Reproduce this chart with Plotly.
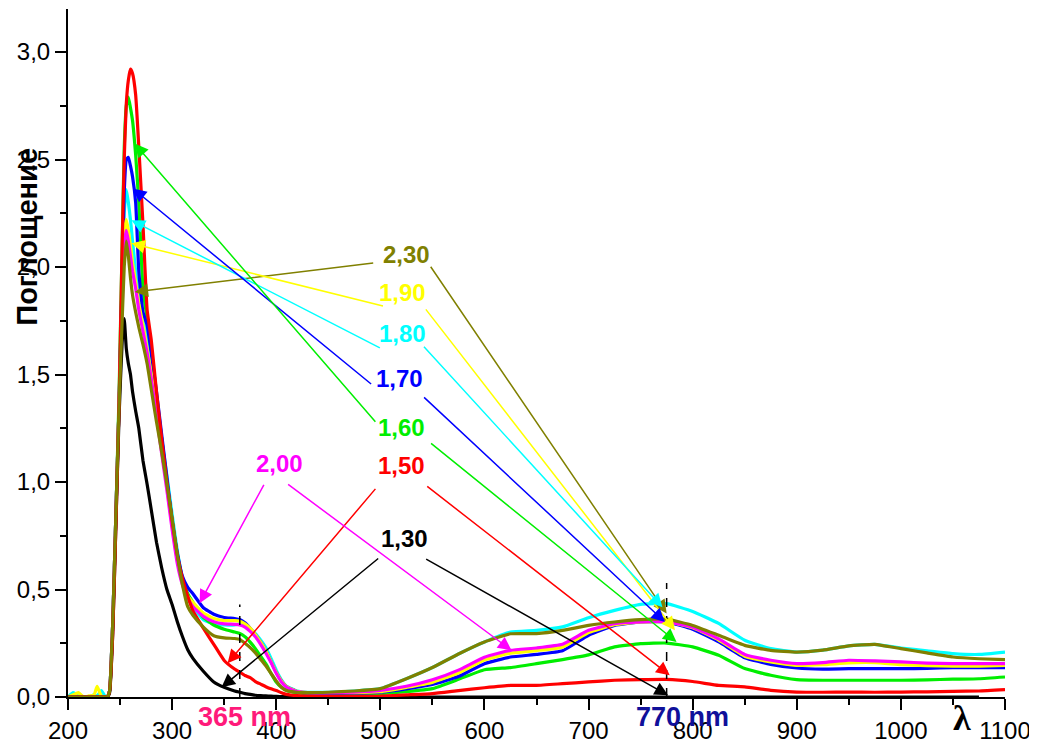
import plotly.graph_objects as go

# ---------------- data ----------------
wl = [200, 205, 210, 215, 220, 225, 228, 232, 236, 238, 240, 243, 246, 249, 252, 254, 256, 258, 260,
      262, 265, 268, 272, 276, 280, 285, 290, 295, 300, 305, 310, 315, 320, 330, 340, 350, 360, 365,
      370, 375, 380, 385, 390, 395, 400, 405, 410, 420, 430, 450, 475, 500, 525, 550, 575, 600, 625,
      650, 675, 700, 725, 750, 775, 800, 825, 850, 875, 900, 925, 950, 975, 1000, 1025, 1050, 1075, 1100]

noise0 = [0, 0, 0, 0, 0, 0, 0, 0, 0, 0]

a130 = noise0 + [0.02, 0.3, 0.8, 1.3, 1.65, 1.76, 1.62, 1.55, 1.5,
                 1.42, 1.33, 1.25, 1.1, 0.99, 0.87, 0.72, 0.6, 0.5, 0.43, 0.35, 0.28, 0.22, 0.18, 0.12, 0.07, 0.045, 0.028, 0.022,
                 0.016, 0.012, 0.008, 0.006, 0.005, 0.004, 0.003, 0.002, 0.002, 0.001, 0, 0, 0, 0, 0, 0, 0, 0, 0,
                 0, 0, 0, 0, 0, 0, 0, 0, 0, 0, 0, 0, 0, 0, 0, 0, 0, 0]

a150 = noise0 + [0.03, 0.3, 0.8, 1.35, 2.1, 2.5, 2.76, 2.87, 2.92,
                 2.9, 2.8, 2.56, 2.2, 1.8, 1.66, 1.42, 1.2, 1.0, 0.82, 0.66, 0.55, 0.47, 0.4, 0.32, 0.245, 0.17, 0.13, 0.115,
                 0.1, 0.09, 0.072, 0.06, 0.048, 0.038, 0.03, 0.02, 0.012, 0.006, 0.004, 0.003, 0.003, 0.004, 0.01, 0.016, 0.03, 0.043, 0.054,
                 0.054, 0.062, 0.07, 0.078, 0.081, 0.082, 0.072, 0.054, 0.047, 0.031, 0.023, 0.022, 0.023, 0.022, 0.023, 0.024, 0.026, 0.028, 0.034]

a160 = noise0 + [0.03, 0.35, 0.85, 1.4, 2.1, 2.55, 2.75, 2.79, 2.74,
                 2.68, 2.52, 2.3, 1.9, 1.76, 1.62, 1.4, 1.2, 1.0, 0.82, 0.66, 0.55, 0.48, 0.44, 0.37, 0.335, 0.315, 0.302, 0.295,
                 0.28, 0.255, 0.225, 0.19, 0.155, 0.11, 0.07, 0.045, 0.03, 0.02, 0.016, 0.012, 0.012, 0.016, 0.025, 0.039, 0.082, 0.127, 0.137,
                 0.155, 0.174, 0.196, 0.233, 0.248, 0.251, 0.233, 0.194, 0.132, 0.101, 0.081, 0.078, 0.078, 0.078, 0.078, 0.08, 0.083, 0.085, 0.093]

a170 = noise0 + [0.03, 0.35, 0.85, 1.35, 1.95, 2.35, 2.5, 2.51, 2.47,
                 2.42, 2.3, 1.98, 1.79, 1.73, 1.6, 1.42, 1.22, 1.02, 0.82, 0.67, 0.56, 0.51, 0.48, 0.415, 0.385, 0.37, 0.365, 0.36,
                 0.345, 0.32, 0.29, 0.255, 0.215, 0.165, 0.115, 0.075, 0.048, 0.025, 0.018, 0.016, 0.018, 0.023, 0.038, 0.058, 0.095, 0.155, 0.186,
                 0.198, 0.215, 0.287, 0.333, 0.349, 0.349, 0.315, 0.256, 0.183, 0.152, 0.135, 0.13, 0.132, 0.132, 0.132, 0.133, 0.137, 0.136, 0.137]

a180 = [0, 0.02, 0.005, 0, 0, 0.01, 0.005, 0.03, 0, 0] + [0.03, 0.35, 0.85, 1.35, 1.9, 2.25, 2.36, 2.3, 2.22,
                 2.12, 1.98, 1.85, 1.76, 1.68, 1.57, 1.38, 1.2, 1.03, 0.85, 0.68, 0.55, 0.46, 0.42, 0.36, 0.34, 0.335, 0.335, 0.34,
                 0.33, 0.315, 0.295, 0.265, 0.23, 0.18, 0.125, 0.08, 0.05, 0.028, 0.022, 0.022, 0.028, 0.039, 0.085, 0.137, 0.2, 0.256, 0.302,
                 0.31, 0.326, 0.369, 0.403, 0.431, 0.434, 0.398, 0.342, 0.264, 0.225, 0.209, 0.218, 0.238, 0.245, 0.228, 0.215, 0.202, 0.198, 0.209]

a190 = [0, 0.01, 0.02, 0, 0.005, 0.01, 0.05, 0.005, 0, 0] + [0.03, 0.35, 0.85, 1.35, 1.85, 2.15, 2.22, 2.17, 2.1,
                 2.02, 1.93, 1.83, 1.73, 1.62, 1.5, 1.33, 1.15, 0.98, 0.8, 0.64, 0.53, 0.47, 0.44, 0.39, 0.365, 0.355, 0.355, 0.352,
                 0.34, 0.32, 0.29, 0.255, 0.215, 0.165, 0.115, 0.075, 0.048, 0.026, 0.02, 0.02, 0.02, 0.025, 0.045, 0.068, 0.112, 0.172, 0.204,
                 0.216, 0.232, 0.3, 0.336, 0.349, 0.35, 0.322, 0.265, 0.19, 0.163, 0.147, 0.15, 0.159, 0.16, 0.151, 0.146, 0.143, 0.144, 0.147]

a200 = noise0 + [0.03, 0.35, 0.85, 1.35, 1.8, 2.1, 2.17, 2.12, 2.05,
                 1.98, 1.9, 1.8, 1.7, 1.6, 1.48, 1.31, 1.13, 0.96, 0.78, 0.62, 0.52, 0.46, 0.42, 0.375, 0.35, 0.34, 0.338, 0.335,
                 0.325, 0.305, 0.28, 0.245, 0.205, 0.16, 0.11, 0.07, 0.045, 0.025, 0.02, 0.02, 0.023, 0.031, 0.05, 0.08, 0.125, 0.185, 0.217,
                 0.228, 0.245, 0.31, 0.341, 0.349, 0.35, 0.325, 0.27, 0.198, 0.171, 0.155, 0.16, 0.171, 0.168, 0.163, 0.158, 0.155, 0.155, 0.155]

a230 = noise0 + [0.03, 0.35, 0.85, 1.35, 1.75, 2.0, 2.12, 2.05, 1.95,
                 1.87, 1.79, 1.72, 1.64, 1.55, 1.43, 1.28, 1.14, 0.99, 0.83, 0.66, 0.52, 0.42, 0.38, 0.325, 0.285, 0.275, 0.272, 0.268,
                 0.25, 0.23, 0.205, 0.175, 0.145, 0.11, 0.075, 0.045, 0.03, 0.022, 0.02, 0.022, 0.028, 0.039, 0.085, 0.137, 0.2, 0.256, 0.294,
                 0.295, 0.31, 0.333, 0.349, 0.36, 0.362, 0.333, 0.287, 0.24, 0.217, 0.209, 0.218, 0.238, 0.245, 0.225, 0.205, 0.186, 0.178, 0.174]

series_names = ["1,80", "1,60", "1,70", "1,90", "2,00", "1,30", "1,50", "2,30"]
series_vals = [a180, a160, a170, a190, a200, a130, a150, a230]
series_colors = ["#00FFFF", "#00EE00", "#0000FF", "#FFFF00", "#FF00FF", "#000000", "#FF0000", "#808000"]

# label texts with positions (data coords) and colours
label_text = ["2,30", "1,90", "1,80", "1,70", "1,60", "1,50", "2,00", "1,30"]
label_x = [525, 521.5, 521.5, 518.7, 520.6, 520.6, 403, 523.4]
label_y = [2.06, 1.88, 1.69, 1.48, 1.254, 1.078, 1.087, 0.738]
label_color = ["#808000", "#FFFF00", "#00FFFF", "#0000FF", "#00EE00", "#FF0000", "#FF00FF", "#000000"]

# arrows: (colour index into label list, tail x, tail y, head x, head y)
arrow_label = [0, 0, 1, 1, 2, 2, 3, 3, 4, 4, 5, 5, 6, 6, 7, 7]
arrow_tail_x = [494.6, 547.4, 504, 542.6, 501, 540.6, 492.6, 540.6, 496.5, 547.3, 496.5, 543.6, 388.9, 410, 499.4, 542.6]
arrow_tail_y = [2.02, 2.008, 1.817, 1.81, 1.62, 1.636, 1.45, 1.40, 1.273, 1.185, 0.975, 0.985, 0.994, 0.994, 0.65, 0.645]
arrow_head_x = [264, 775, 261, 783, 261, 771, 262.3, 773.3, 264, 784.5, 353.3, 778, 326.4, 626, 347.5, 776.4]
arrow_head_y = [1.884, 0.388, 2.11, 0.31, 2.217, 0.417, 2.365, 0.349, 2.574, 0.256, 0.157, 0.101, 0.436, 0.217, 0.045, 0.008]

# marker wavelengths (dashed lines)
mark_wl = [365, 775]
mark_top = [0.43, 0.53]
mark_text = ["365 nm", "770 nm"]
mark_text_x = [370, 790]
mark_text_color = ["#FF1A7A", "#10109A"]

x_ticks = [200, 300, 400, 500, 600, 700, 800, 900, 1000, 1100]
y_ticks = [0.0, 0.5, 1.0, 1.5, 2.0, 2.5, 3.0]
y_ticktext = ["0,0", "0,5", "1,0", "1,5", "2,0", "2,5", "3,0"]

X_RANGE = [200, 1100]
Y_RANGE = [0, 3.2]


def xpaper(v):
    return (v - X_RANGE[0]) / (X_RANGE[1] - X_RANGE[0])


# ---------------- figure ----------------
fig = go.Figure()
for name, vals, col in zip(series_names, series_vals, series_colors):
    fig.add_trace(go.Scatter(x=wl, y=vals, mode="lines", name=name,
                             line=dict(color=col, width=3.2, shape="spline", smoothing=0.4),
                             showlegend=False, cliponaxis=True))

annotations = []
for i in range(len(arrow_label)):
    c = label_color[arrow_label[i]]
    annotations.append(dict(
        x=arrow_head_x[i], y=arrow_head_y[i], ax=arrow_tail_x[i], ay=arrow_tail_y[i],
        xref="x", yref="y", axref="x", ayref="y", text="", showarrow=True,
        arrowhead=2, arrowsize=1.8, arrowwidth=1.5, arrowcolor=c, standoff=0, startstandoff=0))

for t, x, y, c in zip(label_text, label_x, label_y, label_color):
    annotations.append(dict(x=x, y=y, xref="x", yref="y", text="<b>%s</b>" % t, showarrow=False,
                            font=dict(family="Liberation Sans, Arial", size=24, color=c),
                            xanchor="center", yanchor="middle"))

for t, x, c in zip(mark_text, mark_text_x, mark_text_color):
    annotations.append(dict(x=xpaper(x), y=-0.029, xref="paper", yref="paper", text="<b>%s</b>" % t,
                            showarrow=False,
                            font=dict(family="Liberation Sans, Arial", size=27, color=c),
                            xanchor="center", yanchor="middle"))

annotations.append(dict(x=xpaper(1058.7), y=-0.031, xref="paper", yref="paper", text="<b>λ</b>", showarrow=False,
                        font=dict(family="Liberation Serif, DejaVu Serif", size=36, color="black"),
                        xanchor="center", yanchor="middle"))

annotations.append(dict(x=-0.0438, y=0.669, xref="paper", yref="paper", text="<b>Поглощение</b>",
                        textangle=-90, showarrow=False,
                        font=dict(family="Liberation Sans, Arial", size=29, color="black"),
                        xanchor="center", yanchor="middle"))

shapes = []
for w, top in zip(mark_wl, mark_top):
    shapes.append(dict(type="line", x0=w, x1=w, y0=0, y1=top, xref="x", yref="y",
                       line=dict(color="black", width=1.5, dash="dash")))

# the page body adds an 8px offset, so the figure is 8px smaller and margins shifted
fig.update_layout(
    width=1029, height=735, autosize=False,
    margin=dict(l=60, r=32, t=1, b=46, autoexpand=False),
    paper_bgcolor="white", plot_bgcolor="white",
    annotations=annotations, shapes=shapes,
    font=dict(family="Liberation Sans, Arial", color="black"),
)
fig.update_xaxes(range=X_RANGE, showline=True, linecolor="black", linewidth=2,
                 ticks="outside", ticklen=11, tickwidth=2, tickcolor="black",
                 tickvals=x_ticks, ticktext=[str(v) for v in x_ticks],
                 tickfont=dict(size=24, family="Liberation Sans, Arial", color="black"),
                 minor=dict(ticks="outside", ticklen=6, tickwidth=2, tickcolor="black", dtick=50, tick0=200),
                 showgrid=False, zeroline=False, mirror=False)
fig.update_yaxes(range=Y_RANGE, showline=True, linecolor="black", linewidth=2,
                 ticks="outside", ticklen=11, tickwidth=2, tickcolor="black",
                 tickvals=y_ticks, ticktext=y_ticktext,
                 tickfont=dict(size=24, family="Liberation Sans, Arial", color="black"),
                 minor=dict(ticks="outside", ticklen=6, tickwidth=2, tickcolor="black", dtick=0.25, tick0=0),
                 showgrid=False, zeroline=False, mirror=False)

fig.write_html("out.html", config={"displayModeBar": False})
